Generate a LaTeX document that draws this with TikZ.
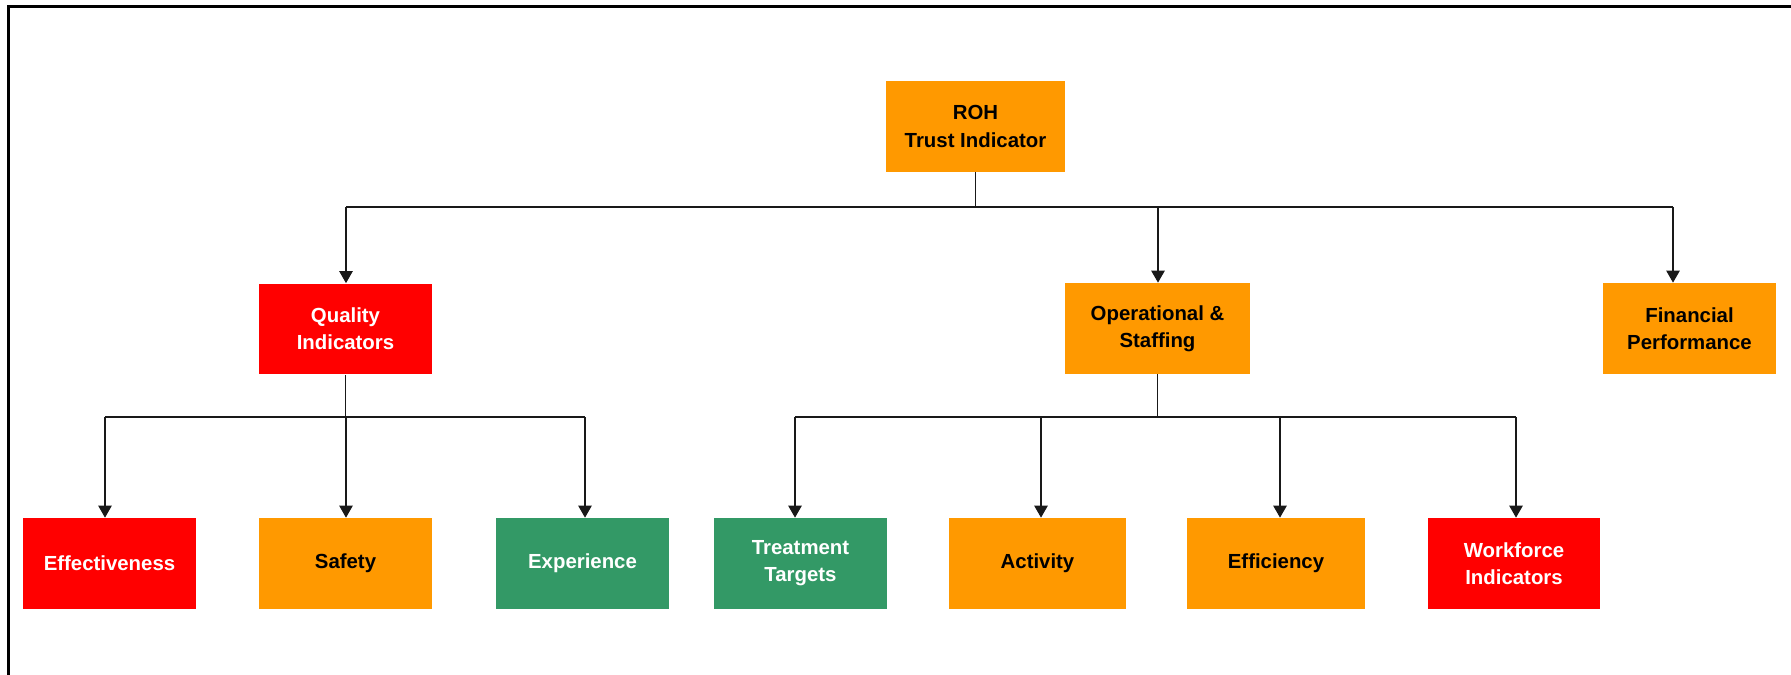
\documentclass[tikz,border=0pt]{standalone}
\usepackage{fontspec}
\setmainfont{Liberation Sans}
\usepackage{tikz}
\usetikzlibrary{arrows.meta,positioning}
\definecolor{rohred}{RGB}{255,0,0}
\definecolor{rohorange}{RGB}{255,153,0}
\definecolor{rohgreen}{RGB}{51,153,102}
\tikzset{>={Triangle[length=6.8pt,width=7.6pt]}}
\tikzset{%
    kpi/.style={%
        minimum width=3.46cm, minimum height=1.82cm, inner sep=0pt,
        align=center, font=\fontsize{11.6}{15.5}\selectfont\bfseries},
    redkpi/.style={kpi, fill=rohred, text=white},
    greenkpi/.style={kpi, fill=rohgreen, text=white},
    orangekpi/.style={kpi, fill=rohorange, text=black},
    wire/.style={line width=0.7pt, black!90}
}

\begin{document}
\begin{tikzpicture}[x=0.02cm,y=-0.02cm]
\useasboundingbox (0,0) rectangle (1791,675);
\draw[line width=1.2pt] (8.5,6.5) rectangle (1900,800);
% boxes
\node[orangekpi, minimum width=3.58cm] (roh) at (975.5,126.5) {ROH\\Trust Indicator};
\node[redkpi] (qual) at (345.5,329) {Quality\\Indicators};
\node[orangekpi, minimum width=3.7cm] (oper) at (1157.5,328.5) {Operational \&\\Staffing};
\node[orangekpi] (fin) at (1689.5,328.5) {Financial\\Performance};
\node[redkpi] (eff) at (109.5,563.5) {Effectiveness};
\node[orangekpi] (safe) at (345.5,563.5) {Safety};
\node[greenkpi] (exp) at (582.5,563.5) {Experience};
\node[greenkpi] (treat) at (800.5,563.5) {Treatment\\Targets};
\node[orangekpi, minimum width=3.54cm] (act) at (1037.5,563.5) {Activity};
\node[orangekpi, minimum width=3.56cm] (effi) at (1276,563.5) {Efficiency};
\node[redkpi, minimum width=3.44cm] (work) at (1514,563.5) {Workforce\\Indicators};
% connectors
\foreach \n/\x/\y in {qual/346/207, oper/1158/207, fin/1673/207,
    eff/105/417, safe/346/417, exp/585/417,
    treat/795/417, act/1041/417, effi/1280/417, work/1516/417} {
    \coordinate (top-\n) at (\x,\y);
    \draw[wire,->] (top-\n) -- (top-\n |- \n.north);
}
\draw[wire] (top-qual) -- (top-fin);
\draw[wire] (roh.south) -- (roh.south |- top-qual);
\draw[wire] (top-eff) -- (top-exp);
\draw[wire] (qual.south) -- (qual.south |- top-eff);
\draw[wire] (top-treat) -- (top-work);
\draw[wire] (oper.south) -- (oper.south |- top-treat);
\end{tikzpicture}
\end{document}
